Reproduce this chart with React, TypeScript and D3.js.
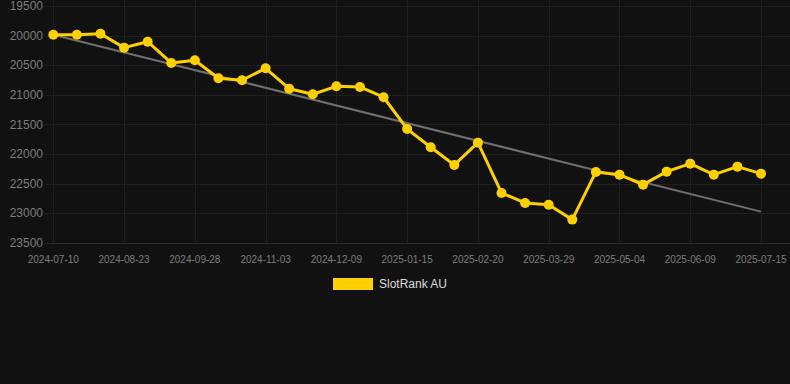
import React from "react";
import * as d3 from "d3";

const tickLabels = [
  "2024-07-10", "2024-08-23", "2024-09-28", "2024-11-03", "2024-12-09",
  "2025-01-15", "2025-02-20", "2025-03-29", "2025-05-04", "2025-06-09", "2025-07-15",
];
const rankValues = [
  19985, 19985, 19968, 20204, 20103, 20463, 20417, 20722, 20755, 20553,
  20897, 20992, 20857, 20868, 21042, 21578, 21887, 22186, 21809, 22659,
  22828, 22858, 23110, 22304, 22350, 22519, 22299, 22164, 22350, 22215, 22333,
];
const trendValues = [19985, 22975];
const yTicks = [19500, 20000, 20500, 21000, 21500, 22000, 22500, 23000, 23500];
const seriesName = "SlotRank AU";

const W = 790, H = 384;
const X0 = 53.3, X1 = 761;
const Y0 = 6, Y1 = 242.7;

export default function App() {
  const n = rankValues.length;
  const x = d3.scaleLinear().domain([0, n - 1]).range([X0, X1]);
  const y = d3.scaleLinear().domain([19500, 23500]).range([Y0, Y1]);
  const line = d3.line<number>().x((_, i) => x(i)).y((d) => y(d));
  const tickIdx = tickLabels.map((_, i) => i * 3);
  const font = "Arial, 'Liberation Sans', Helvetica, sans-serif";
  return (
    <svg width={W} height={H} style={{ position: "absolute", left: 0, top: 0, background: "#111111" }}>
      <rect x={0} y={0} width={W} height={H} fill="#111111" />
      {yTicks.map((t) => (
        <line key={"h" + t} x1={45} x2={W} y1={Math.round(y(t)) + 0.5} y2={Math.round(y(t)) + 0.5}
          stroke={t === 23500 ? "#2b2b2b" : "#1f1f1f"} strokeWidth={1} />
      ))}
      {tickIdx.map((i) => (
        <line key={"v" + i} x1={Math.round(x(i)) + 0.5} x2={Math.round(x(i)) + 0.5} y1={0} y2={Y1}
          stroke="#1f1f1f" strokeWidth={1} />
      ))}
      {yTicks.map((t) => (
        <text key={"yl" + t} x={43} y={y(t)} dy="0.35em" textAnchor="end" fontSize={12}
          fontFamily={font} fill="#7c7c7c">{t}</text>
      ))}
      {tickIdx.map((i, k) => (
        <text key={"xl" + i} x={x(i)} y={259} dy="0.35em" textAnchor="middle" fontSize={10}
          fontFamily={font} fill="#7c7c7c">{tickLabels[k]}</text>
      ))}
      <line x1={x(0)} y1={y(trendValues[0])} x2={x(n - 1)} y2={y(trendValues[1])}
        stroke="#6e6e6e" strokeWidth={2} />
      <path d={line(rankValues) || ""} fill="none" stroke="#FFD000" strokeWidth={3} strokeLinejoin="round" />
      {rankValues.map((v, i) => (
        <circle key={"p" + i} cx={x(i)} cy={y(v)} r={5} fill="#FFD000" />
      ))}
      <rect x={333} y={278} width={40} height={12} fill="#FFD000" />
      <text x={379} y={284} dy="0.35em" fontSize={12} fontFamily={font} fill="#dddddd">{seriesName}</text>
    </svg>
  );
}
